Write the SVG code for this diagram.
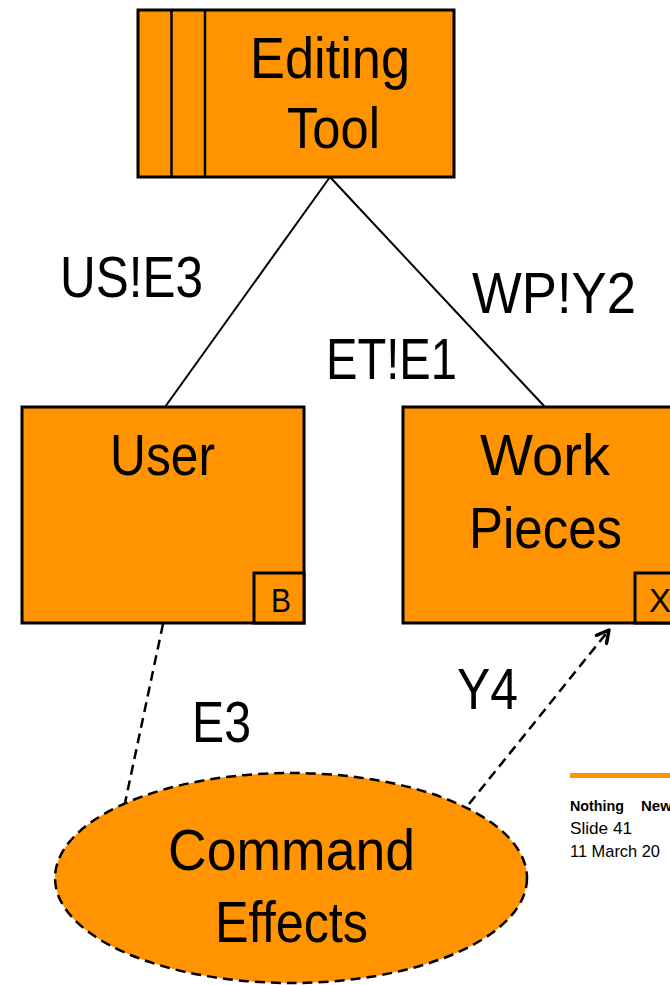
<svg xmlns="http://www.w3.org/2000/svg" width="670" height="985" viewBox="0 0 670 985">
<style>
.box{fill:#FF9400;stroke:#000;stroke-width:3}
.t{font-family:"Liberation Sans",Arial,sans-serif;font-size:58px;fill:#000}
.s{font-family:"Liberation Sans",Arial,sans-serif;font-size:33px;fill:#000}
.f{font-family:"Liberation Sans",Arial,sans-serif;font-size:17px;fill:#000}
.ln{stroke:#000;stroke-width:2;fill:none}
.dash{stroke:#000;stroke-width:2.5;fill:none;stroke-dasharray:10 6}
</style>
<defs>
<marker id="arr" viewBox="0 0 16 16" refX="14" refY="8" markerWidth="16" markerHeight="16" markerUnits="userSpaceOnUse" orient="auto">
<path d="M2,1.5 L14,8 L2,14.5" fill="none" stroke="#000" stroke-width="3.5" stroke-linecap="round" stroke-linejoin="round"/>
</marker>
</defs>
<rect width="670" height="985" fill="#fff"/>
<g id="connectors">
<line class="ln" x1="330" y1="177" x2="165" y2="407"/>
<line class="ln" x1="330" y1="177" x2="545" y2="407"/>
<line class="dash" x1="163" y1="624" x2="125" y2="803"/>
<line class="dash" x1="469" y1="804" x2="609" y2="630" marker-end="url(#arr)"/>
</g>
<g id="editing-tool">
<rect class="box" x="138" y="10" width="316" height="167"/>
<line class="ln" x1="171.5" y1="10" x2="171.5" y2="177" style="stroke-width:2.5"/>
<line class="ln" x1="205" y1="10" x2="205" y2="177" style="stroke-width:2.5"/>
<text class="t" x="250" y="78" textLength="160" lengthAdjust="spacingAndGlyphs">Editing</text>
<text class="t" x="287" y="148" textLength="93" lengthAdjust="spacingAndGlyphs">Tool</text>
</g>
<g id="user">
<rect class="box" x="22" y="407" width="282" height="216"/>
<rect class="box" x="254" y="573" width="50" height="50"/>
<text class="t" x="110" y="475" textLength="105" lengthAdjust="spacingAndGlyphs">User</text>
<text class="s" x="271" y="612" textLength="20" lengthAdjust="spacingAndGlyphs">B</text>
</g>
<g id="work-pieces">
<rect class="box" x="403" y="407" width="280" height="216"/>
<rect class="box" x="635" y="573" width="50" height="50"/>
<text class="t" x="480" y="475" textLength="130" lengthAdjust="spacingAndGlyphs">Work</text>
<text class="t" x="469" y="548" textLength="153" lengthAdjust="spacingAndGlyphs">Pieces</text>
<text class="s" x="649" y="612" textLength="22" lengthAdjust="spacingAndGlyphs">X</text>
</g>
<g id="command-effects">
<ellipse cx="291" cy="878" rx="236" ry="105" fill="#FF9400" stroke="#000" stroke-width="2.5" stroke-dasharray="10 6"/>
<text class="t" x="168" y="870" textLength="247" lengthAdjust="spacingAndGlyphs">Command</text>
<text class="t" x="215" y="942" textLength="153" lengthAdjust="spacingAndGlyphs">Effects</text>
</g>
<g id="labels">
<text class="t" x="60" y="297" textLength="143" lengthAdjust="spacingAndGlyphs">US!E3</text>
<text class="t" x="472" y="313" textLength="164" lengthAdjust="spacingAndGlyphs">WP!Y2</text>
<text class="t" x="326" y="379" textLength="131" lengthAdjust="spacingAndGlyphs">ET!E1</text>
<text class="t" x="192" y="742" textLength="59" lengthAdjust="spacingAndGlyphs">E3</text>
<text class="t" x="457" y="709" textLength="61" lengthAdjust="spacingAndGlyphs">Y4</text>
</g>
<g id="footer">
<rect x="570" y="773" width="100" height="5" fill="#FF9400"/>
<text class="f" x="570" y="811" font-weight="bold" style="font-size:15px"><tspan textLength="54" lengthAdjust="spacingAndGlyphs">Nothing</tspan><tspan x="641">New</tspan></text>
<text class="f" x="570" y="834" textLength="62" lengthAdjust="spacingAndGlyphs">Slide 41</text>
<text class="f" x="570" y="857" textLength="90" lengthAdjust="spacingAndGlyphs">11 March 20</text>
</g>
</svg>
